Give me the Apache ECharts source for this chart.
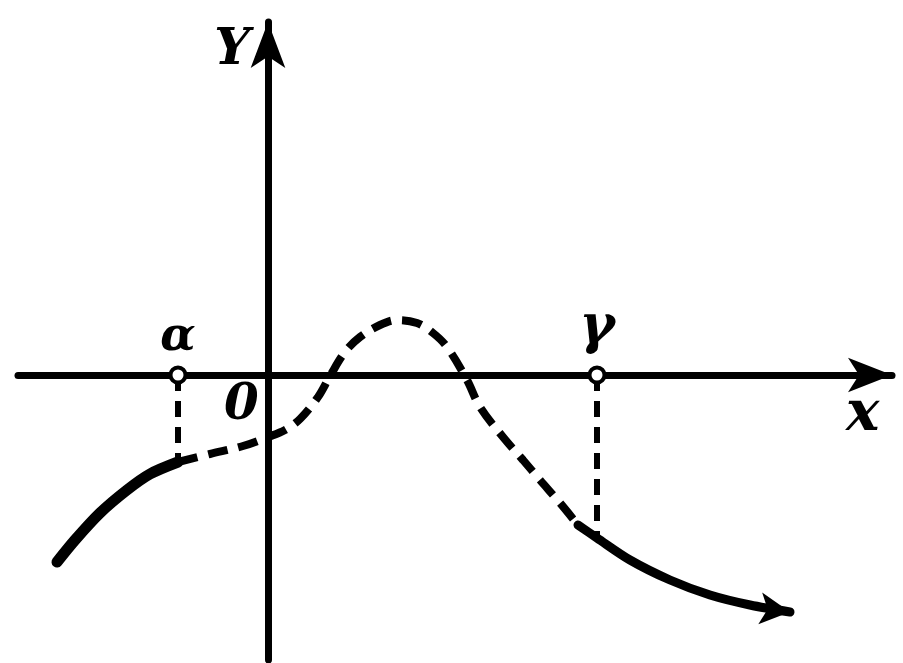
<!DOCTYPE html>
<html>
<head>
<meta charset="utf-8">
<script src="https://cdn.jsdelivr.net/npm/echarts@6/dist/echarts.min.js"></script>
<style>
  html, body { margin: 0; padding: 0; background: #fff; }
  #chart { width: 903px; height: 663px; }
</style>
</head>
<body>
<div id="chart"></div>
<script>
// curve, origin at the axes crossing
var leftSolid = [[-211, -187], [-193, -165], [-168, -138], [-141, -115], [-118, -99], [-90, -87]];
var middleDashed = [
  [-90, -87], [-58, -79], [-25, -71], [0, -62], [17, -55], [32, -44], [50, -22],
  [62, -1], [77, 23], [92, 38], [112, 50], [129, 55], [149, 52], [165, 42],
  [179, 28], [199, -5], [212, -32], [235, -62], [255, -85], [272, -105], [292, -128], [310, -150]
];
var rightSolid = [[310, -150], [329, -163], [362, -185], [402, -205], [442, -220], [482, -230], [522, -237]];
var roots = [-90, 329];
var rootNames = ["α", "γ"];
var dropDepth = [-87, -162];
var axisNames = ["x", "Y"];
var originName = "0";

var fontStyle = {
  fontFamily: "DejaVu Serif",
  fontStyle: "italic",
  fontWeight: "bold",
  color: "#000"
};

var chartDom = document.getElementById("chart");
var myChart = echarts.init(chartDom, null, { renderer: "canvas" });

var drops = roots.map(function (x, i) {
  return {
    type: "line",
    data: [[x, 0], [x, dropDepth[i]]],
    symbol: "none",
    silent: true,
    lineStyle: { color: "#000", width: 6, type: [16, 10] },
    z: 2
  };
});

var last = rightSolid[rightSolid.length - 1];

var option = {
  backgroundColor: "#fff",
  animation: false,
  grid: { left: 18, right: 11, top: 22, bottom: 3 },
  xAxis: {
    type: "value",
    min: -250,
    max: 624,
    name: axisNames[0],
    nameLocation: "end",
    nameGap: -46,
    nameTextStyle: Object.assign({ fontSize: 56, align: "left", verticalAlign: "top", padding: [12, 0, 0, 0] }, fontStyle),
    axisLine: { onZero: true, symbol: ["none", "arrow"], symbolSize: [26, 44], lineStyle: { color: "#000", width: 7 } },
    axisTick: { show: false },
    axisLabel: { show: false },
    splitLine: { show: false }
  },
  yAxis: {
    type: "value",
    min: -285,
    max: 353,
    name: axisNames[1],
    nameLocation: "end",
    nameGap: -4,
    nameTextStyle: Object.assign({ fontSize: 50, align: "right", verticalAlign: "top", padding: [0, 18, 0, 0] }, fontStyle),
    axisLine: { onZero: true, symbol: ["none", "arrow"], symbolSize: [26, 46], lineStyle: { color: "#000", width: 7 } },
    axisTick: { show: false },
    axisLabel: { show: false },
    splitLine: { show: false }
  },
  series: drops.concat([
    {
      type: "line",
      data: leftSolid,
      smooth: 0.3,
      symbol: "none",
      lineStyle: { color: "#000", width: 11, cap: "round" },
      z: 3
    },
    {
      type: "line",
      data: middleDashed,
      smooth: 0.35,
      symbol: "none",
      lineStyle: { color: "#000", width: 8, type: [20, 11] },
      z: 3
    },
    {
      type: "line",
      data: rightSolid,
      smooth: 0.3,
      symbol: "none",
      lineStyle: { color: "#000", width: 9, cap: "round" },
      z: 3
    },
    {
      type: "scatter",
      data: [last],
      symbol: "arrow",
      symbolSize: [24, 30],
      symbolRotate: -97,
      itemStyle: { color: "#000", opacity: 1 },
      z: 4
    },
    {
      type: "scatter",
      data: roots.map(function (x, i) {
        return {
          name: rootNames[i],
          value: [x, 0],
          label: { fontSize: i === 0 ? 46 : 54, distance: i === 0 ? 4 : 10 }
        };
      }),
      symbol: "circle",
      symbolSize: 15,
      itemStyle: { color: "#fff", borderColor: "#000", borderWidth: 4, opacity: 1 },
      label: Object.assign({ show: true, position: "top", distance: 4, fontSize: 46, formatter: "{b}" }, fontStyle),
      z: 5
    },
    {
      type: "scatter",
      data: [{ name: originName, value: [0, 0] }],
      symbolSize: 0,
      itemStyle: { opacity: 1 },
      label: Object.assign({ show: true, position: [-44, 6], fontSize: 50, formatter: "{b}" }, fontStyle),
      z: 5
    }
  ])
};

option && myChart.setOption(option);
</script>
</body>
</html>
